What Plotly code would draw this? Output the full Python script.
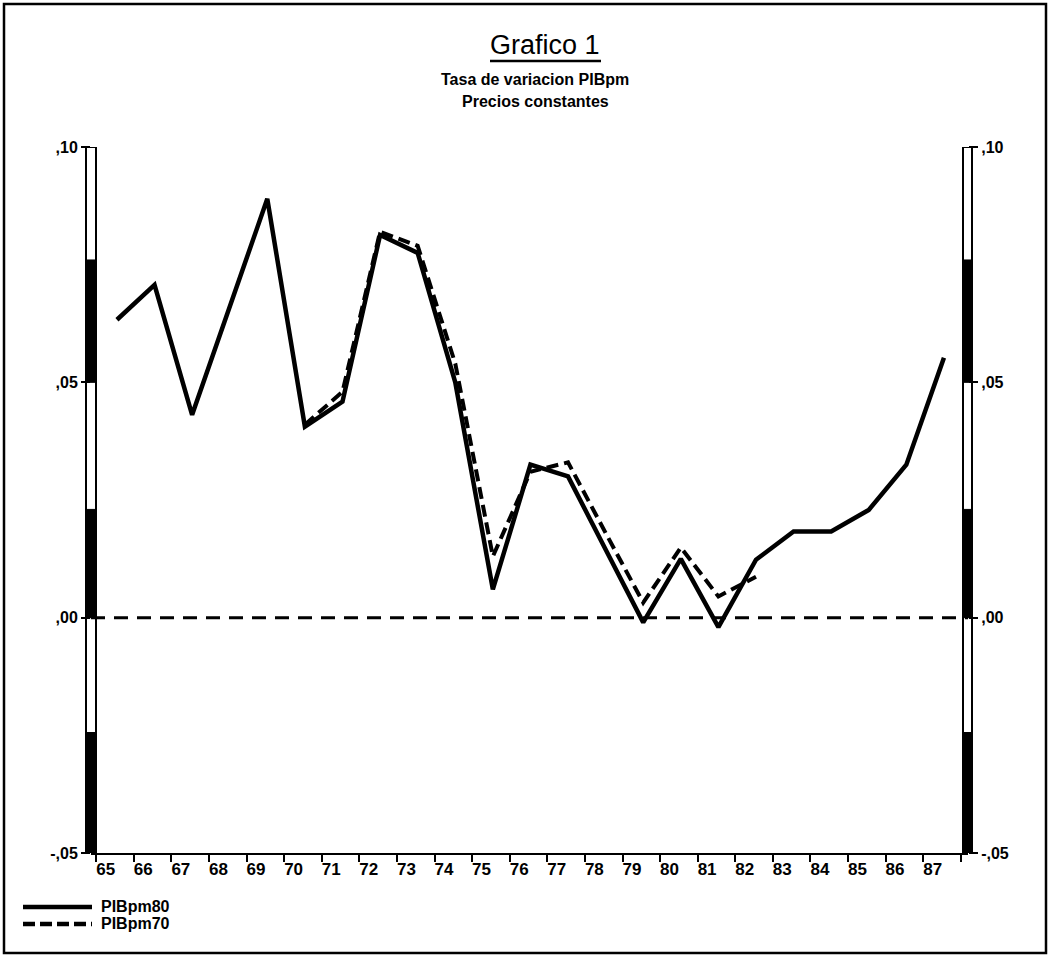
import plotly.graph_objects as go

# ---- data ----
years = list(range(65, 88))
year_labels = [str(y) for y in years]
pib80 = [0.0633, 0.0707, 0.0431, 0.0660, 0.0890, 0.0406, 0.0459, 0.0813, 0.0775,
         0.0500, 0.0060, 0.0325, 0.0300, 0.0145, -0.0010, 0.0125, -0.0020, 0.0123,
         0.0183, 0.0183, 0.0229, 0.0325, 0.0552]
years70 = list(range(70, 83))
pib70 = [0.0410, 0.0480, 0.0820, 0.0790, 0.0540, 0.0130, 0.0310, 0.0330, 0.0180,
         0.0032, 0.0149, 0.0045, 0.0087]
y_ticks = [-0.05, 0.0, 0.05, 0.10]
y_tick_text = ["-,05", ",00", ",05", ",10"]

W, H = 1050, 957
L, R, T, B = 91, 968, 147, 853  # plot area in pixels


def px(xp):
    return (xp - L) / (R - L)


def py(yp):
    return (B - yp) / (B - T)


tick_font = dict(family="Liberation Sans, DejaVu Sans, sans-serif",
                 size=16, color="black", weight="bold")
xtick_font = dict(family="Liberation Sans, DejaVu Sans, sans-serif",
                  size=17, color="black", weight="bold")

fig = go.Figure()
fig.add_trace(go.Scatter(x=years, y=pib80, mode="lines", name="PIBpm80",
                         line=dict(color="black", width=4.5), showlegend=False))
fig.add_trace(go.Scatter(x=years70, y=pib70, mode="lines", name="PIBpm70",
                         line=dict(color="black", width=4, dash="12px,6px"), showlegend=False))
# invisible trace for right axis
fig.add_trace(go.Scatter(x=years, y=pib80, mode="lines", yaxis="y2",
                         line=dict(width=0), opacity=0, showlegend=False, hoverinfo="skip"))

xrange = [64.31, 87.64]
fig.update_layout(
    width=W, height=H,
    margin=dict(l=L, r=W - R, t=T, b=H - B, pad=0),
    paper_bgcolor="white", plot_bgcolor="white",
    xaxis=dict(range=xrange, showgrid=False, zeroline=False, showline=True,
               linecolor="black", linewidth=2, ticks="",
               tickmode="array", tickvals=[y - 0.3 for y in years], ticktext=year_labels,
               tickfont=xtick_font,
               minor=dict(tickmode="array", tickvals=[y - 0.55 for y in years] + [years[-1] + 0.45],
                          ticks="outside", ticklen=7, tickwidth=2, tickcolor="black", showgrid=False)),
    yaxis=dict(range=[-0.05, 0.10], showgrid=False, zeroline=False, showline=False,
               tickmode="array", tickvals=y_ticks, ticktext=y_tick_text,
               ticks="outside", ticklen=9, tickwidth=2, tickcolor="black", tickfont=tick_font),
    yaxis2=dict(range=[-0.05, 0.10], overlaying="y", side="right", showgrid=False,
                zeroline=False, showline=False,
                tickmode="array", tickvals=y_ticks, ticktext=y_tick_text,
                ticks="outside", ticklen=9, tickwidth=2, tickcolor="black", tickfont=tick_font),
)

shapes = []
# zero reference dashed line
shapes.append(dict(type="line", xref="paper", yref="y", x0=0, x1=1, y0=0, y1=0,
                   line=dict(color="black", width=3, dash="14px,9px")))
# axis bars (hollow with filled parts)
for (xa, xb) in [(px(86), px(96)), (px(963), px(972))]:
    shapes.append(dict(type="rect", xref="paper", yref="y", x0=xa, x1=xb, y0=-0.05, y1=0.10,
                       line=dict(color="black", width=2), fillcolor="rgba(0,0,0,0)"))
    for (ya, yb) in [(0.05, 0.076), (0.0, 0.023), (-0.05, -0.0244)]:
        shapes.append(dict(type="rect", xref="paper", yref="y", x0=xa, x1=xb, y0=ya, y1=yb,
                           line=dict(color="black", width=1), fillcolor="black"))
# title underline
shapes.append(dict(type="line", xref="paper", yref="paper", x0=px(490), x1=px(601),
                   y0=py(61), y1=py(61), line=dict(color="black", width=2.5)))
# legend samples
shapes.append(dict(type="line", xref="paper", yref="paper", x0=px(23), x1=px(92),
                   y0=py(907), y1=py(907), line=dict(color="black", width=4.5)))
shapes.append(dict(type="line", xref="paper", yref="paper", x0=px(23), x1=px(92),
                   y0=py(924), y1=py(924), line=dict(color="black", width=4.5, dash="12px,5px")))
# outer frame
shapes.append(dict(type="rect", xref="paper", yref="paper", x0=px(4), x1=px(1046),
                   y0=py(953), y1=py(4), line=dict(color="black", width=2.5)))
fig.update_layout(shapes=shapes)

bold_font = dict(family="Liberation Sans, sans-serif", size=16, color="black", weight="bold")
leg_font = dict(family="Liberation Sans, sans-serif", size=16, color="black", weight="bold")
ann = [
    dict(text="Grafico 1", x=px(545), y=py(45), font=dict(family="Liberation Sans, sans-serif",
                                                          size=27, color="black")),
    dict(text="Tasa de variacion PIBpm", x=px(535), y=py(80), font=bold_font),
    dict(text="Precios constantes", x=px(535), y=py(102), font=bold_font),
    dict(text="PIBpm80", x=px(99), y=py(906), xanchor="left", font=leg_font),
    dict(text="PIBpm70", x=px(99), y=py(923), xanchor="left", font=leg_font),
]
for a in ann:
    a.setdefault("xanchor", "center")
    fig.add_annotation(xref="paper", yref="paper", showarrow=False, yanchor="middle", **a)

fig.write_html("out.html", config={"displayModeBar": False},
               post_script="document.body.style.margin='0px';")
